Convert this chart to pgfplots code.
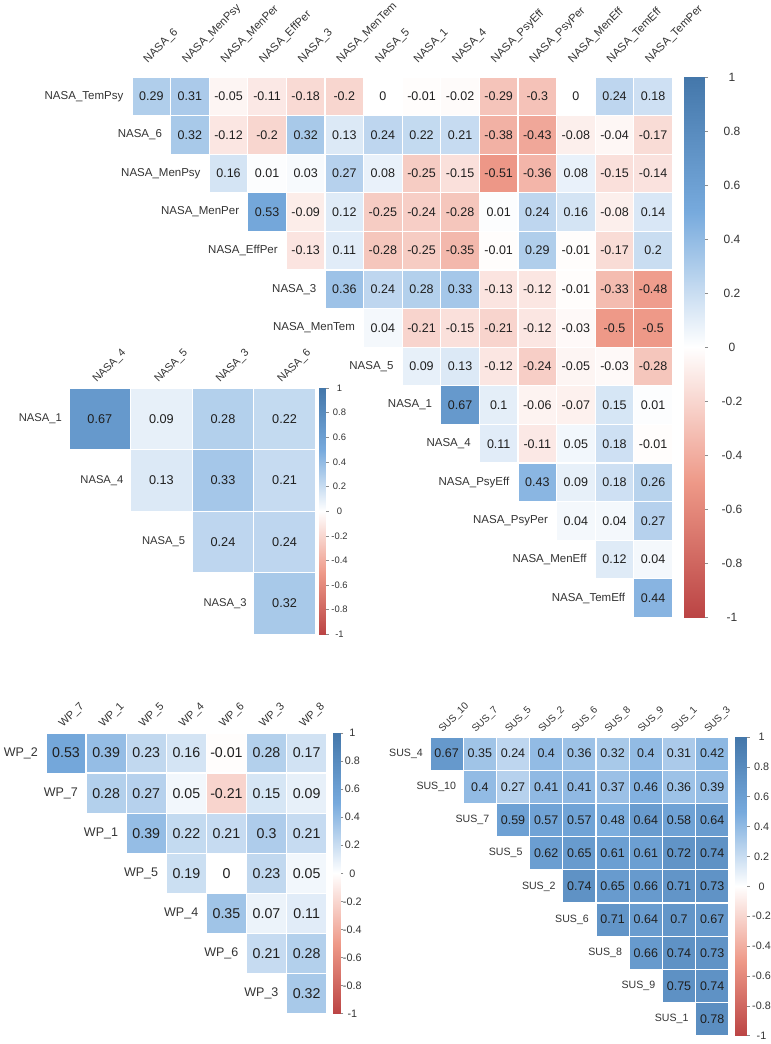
\documentclass[border=0pt]{standalone}
\usepackage{fontspec}
\setmainfont{Liberation Sans}
\usepackage{pgfplots}
\pgfplotsset{compat=1.18}
\newcommand{\fs}[1]{\fontsize{#1bp}{#1bp}\selectfont}

\pgfplotsset{
  colormap={corr}{rgb255(0cm)=(187,68,68) rgb255(1cm)=(238,153,136) rgb255(2cm)=(255,255,255) rgb255(3cm)=(119,170,221) rgb255(4cm)=(68,119,170)},
  heat/.style={anchor=north west, scale only axis, y dir=reverse, hide axis, clip=false,
    point meta min=-1, point meta max=1},
  cbar/.style={anchor=north west, scale only axis, xmin=0, xmax=1, ymin=-1, ymax=1,
    axis line style={draw=none}, xtick=\empty,
    ytick={-1,-0.8,-0.6,-0.4,-0.2,0,0.2,0.4,0.6,0.8,1},
    yticklabels={-1,-0.8,-0.6,-0.4,-0.2,0,0.2,0.4,0.6,0.8,1},
    ytick pos=right, yticklabel pos=right, tick align=outside,
    tick style={draw=black!45, line width=0.6bp},
    yticklabel style={anchor=center, text=black!80},
    point meta min=-1, point meta max=1},
  cells/.style={scatter, only marks, mark=square*, point meta=explicit,
    scatter/use mapped color={draw=white, fill=mapped color}, mark options={line width=1.2bp}},
  vals/.style={only marks, mark=none, nodes near coords, nodes near coords align={center},
    point meta=explicit symbolic, every node near coord/.append style={text=black!88, inner sep=0pt}},
  grad/.style={surf, shader=interp, mesh/rows=5, point meta=y},
}
\newcommand{\gradplot}{\addplot[grad] coordinates {(0,-1) (1,-1) (0,-0.5) (1,-0.5) (0,0) (1,0) (0,0.5) (1,0.5) (0,1) (1,1)};}

\begin{document}
\begin{tikzpicture}
\path[use as bounding box] (0,0) rectangle (771bp,1044bp);

% ---------------- big NASA panel ----------------
\begin{axis}[heat, name=big, at={(132bp,967bp)}, width=540.4bp, height=540.4bp,
  xmin=-0.5, xmax=13.5, ymin=-0.5, ymax=13.5]
\addplot[cells, mark size=19.3bp] coordinates {
(0,0)[0.29] (1,0)[0.31] (2,0)[-0.05] (3,0)[-0.11] (4,0)[-0.18] (5,0)[-0.2] (6,0)[0] (7,0)[-0.01] (8,0)[-0.02] (9,0)[-0.29] (10,0)[-0.3] (11,0)[0] (12,0)[0.24] (13,0)[0.18]
(1,1)[0.32] (2,1)[-0.12] (3,1)[-0.2] (4,1)[0.32] (5,1)[0.13] (6,1)[0.24] (7,1)[0.22] (8,1)[0.21] (9,1)[-0.38] (10,1)[-0.43] (11,1)[-0.08] (12,1)[-0.04] (13,1)[-0.17]
(2,2)[0.16] (3,2)[0.01] (4,2)[0.03] (5,2)[0.27] (6,2)[0.08] (7,2)[-0.25] (8,2)[-0.15] (9,2)[-0.51] (10,2)[-0.36] (11,2)[0.08] (12,2)[-0.15] (13,2)[-0.14]
(3,3)[0.53] (4,3)[-0.09] (5,3)[0.12] (6,3)[-0.25] (7,3)[-0.24] (8,3)[-0.28] (9,3)[0.01] (10,3)[0.24] (11,3)[0.16] (12,3)[-0.08] (13,3)[0.14]
(4,4)[-0.13] (5,4)[0.11] (6,4)[-0.28] (7,4)[-0.25] (8,4)[-0.35] (9,4)[-0.01] (10,4)[0.29] (11,4)[-0.01] (12,4)[-0.17] (13,4)[0.2]
(5,5)[0.36] (6,5)[0.24] (7,5)[0.28] (8,5)[0.33] (9,5)[-0.13] (10,5)[-0.12] (11,5)[-0.01] (12,5)[-0.33] (13,5)[-0.48]
(6,6)[0.04] (7,6)[-0.21] (8,6)[-0.15] (9,6)[-0.21] (10,6)[-0.12] (11,6)[-0.03] (12,6)[-0.5] (13,6)[-0.5]
(7,7)[0.09] (8,7)[0.13] (9,7)[-0.12] (10,7)[-0.24] (11,7)[-0.05] (12,7)[-0.03] (13,7)[-0.28]
(8,8)[0.67] (9,8)[0.1] (10,8)[-0.06] (11,8)[-0.07] (12,8)[0.15] (13,8)[0.01]
(9,9)[0.11] (10,9)[-0.11] (11,9)[0.05] (12,9)[0.18] (13,9)[-0.01]
(10,10)[0.43] (11,10)[0.09] (12,10)[0.18] (13,10)[0.26]
(11,11)[0.04] (12,11)[0.04] (13,11)[0.27]
(12,12)[0.12] (13,12)[0.04]
(13,13)[0.44]
};
\addplot[vals, every node near coord/.append style={font=\fs{12.5}}] coordinates {
(0,0)[0.29] (1,0)[0.31] (2,0)[-0.05] (3,0)[-0.11] (4,0)[-0.18] (5,0)[-0.2] (6,0)[0] (7,0)[-0.01] (8,0)[-0.02] (9,0)[-0.29] (10,0)[-0.3] (11,0)[0] (12,0)[0.24] (13,0)[0.18]
(1,1)[0.32] (2,1)[-0.12] (3,1)[-0.2] (4,1)[0.32] (5,1)[0.13] (6,1)[0.24] (7,1)[0.22] (8,1)[0.21] (9,1)[-0.38] (10,1)[-0.43] (11,1)[-0.08] (12,1)[-0.04] (13,1)[-0.17]
(2,2)[0.16] (3,2)[0.01] (4,2)[0.03] (5,2)[0.27] (6,2)[0.08] (7,2)[-0.25] (8,2)[-0.15] (9,2)[-0.51] (10,2)[-0.36] (11,2)[0.08] (12,2)[-0.15] (13,2)[-0.14]
(3,3)[0.53] (4,3)[-0.09] (5,3)[0.12] (6,3)[-0.25] (7,3)[-0.24] (8,3)[-0.28] (9,3)[0.01] (10,3)[0.24] (11,3)[0.16] (12,3)[-0.08] (13,3)[0.14]
(4,4)[-0.13] (5,4)[0.11] (6,4)[-0.28] (7,4)[-0.25] (8,4)[-0.35] (9,4)[-0.01] (10,4)[0.29] (11,4)[-0.01] (12,4)[-0.17] (13,4)[0.2]
(5,5)[0.36] (6,5)[0.24] (7,5)[0.28] (8,5)[0.33] (9,5)[-0.13] (10,5)[-0.12] (11,5)[-0.01] (12,5)[-0.33] (13,5)[-0.48]
(6,6)[0.04] (7,6)[-0.21] (8,6)[-0.15] (9,6)[-0.21] (10,6)[-0.12] (11,6)[-0.03] (12,6)[-0.5] (13,6)[-0.5]
(7,7)[0.09] (8,7)[0.13] (9,7)[-0.12] (10,7)[-0.24] (11,7)[-0.05] (12,7)[-0.03] (13,7)[-0.28]
(8,8)[0.67] (9,8)[0.1] (10,8)[-0.06] (11,8)[-0.07] (12,8)[0.15] (13,8)[0.01]
(9,9)[0.11] (10,9)[-0.11] (11,9)[0.05] (12,9)[0.18] (13,9)[-0.01]
(10,10)[0.43] (11,10)[0.09] (12,10)[0.18] (13,10)[0.26]
(11,11)[0.04] (12,11)[0.04] (13,11)[0.27]
(12,12)[0.12] (13,12)[0.04]
(13,13)[0.44]
};
\end{axis}
\begin{axis}[cbar, at={(684bp,967bp)}, width=20bp, height=540.4bp, major tick length=4bp,
  yticklabel style={font=\fs{12}, xshift=24bp}]
\gradplot
\end{axis}
\foreach \i/\l in {0/NASA\_TemPsy,1/NASA\_6,2/NASA\_MenPsy,3/NASA\_MenPer,4/NASA\_EffPer,5/NASA\_3,6/NASA\_MenTem,7/NASA\_5,8/NASA\_1,9/NASA\_4,10/NASA\_PsyEff,11/NASA\_PsyPer,12/NASA\_MenEff,13/NASA\_TemEff}
  \node[anchor=east, font=\fs{11.5}, text=black!80, inner sep=0pt] at ([xshift=\i*38.6bp-8.5bp, yshift=-\i*38.6bp-19.3bp]big.north west) {\l};
\foreach \i/\l in {0/NASA\_6,1/NASA\_MenPsy,2/NASA\_MenPer,3/NASA\_EffPer,4/NASA\_3,5/NASA\_MenTem,6/NASA\_5,7/NASA\_1,8/NASA\_4,9/NASA\_PsyEff,10/NASA\_PsyPer,11/NASA\_MenEff,12/NASA\_TemEff,13/NASA\_TemPer}
  \node[rotate=45, anchor=base west, font=\fs{11.2}, text=black!80, inner sep=0pt] at ([xshift=\i*38.6bp+19.3bp-3.5bp, yshift=13.7bp]big.north west) {\l};

% ---------------- small NASA panel ----------------
\begin{axis}[heat, name=small, at={(69bp,656bp)}, width=246.4bp, height=246.4bp,
  xmin=-0.5, xmax=3.5, ymin=-0.5, ymax=3.5]
\addplot[cells, mark size=30.8bp] coordinates {
(0,0)[0.67] (1,0)[0.09] (2,0)[0.28] (3,0)[0.22]
(1,1)[0.13] (2,1)[0.33] (3,1)[0.21]
(2,2)[0.24] (3,2)[0.24]
(3,3)[0.32]
};
\addplot[vals, every node near coord/.append style={font=\fs{12.7}}] coordinates {
(0,0)[0.67] (1,0)[0.09] (2,0)[0.28] (3,0)[0.22]
(1,1)[0.13] (2,1)[0.33] (3,1)[0.21]
(2,2)[0.24] (3,2)[0.24]
(3,3)[0.32]
};
\end{axis}
\begin{axis}[cbar, at={(319bp,656bp)}, width=6.5bp, height=246.4bp, major tick length=3bp,
  yticklabel style={font=\fs{9.4}, xshift=11bp}]
\gradplot
\end{axis}
\foreach \i/\l in {0/NASA\_1,1/NASA\_4,2/NASA\_5,3/NASA\_3}
  \node[anchor=east, font=\fs{11.2}, text=black!80, inner sep=0pt] at ([xshift=\i*61.6bp-7bp, yshift=-\i*61.6bp-30.8bp]small.north west) {\l};
\foreach \i/\l in {0/NASA\_4,1/NASA\_5,2/NASA\_3,3/NASA\_6}
  \node[rotate=45, anchor=base west, font=\fs{10.8}, text=black!80, inner sep=0pt] at ([xshift=\i*61.6bp+30.8bp-3bp, yshift=5bp]small.north west) {\l};

% ---------------- WP panel ----------------
\begin{axis}[heat, name=wp, at={(46bp,311bp)}, width=280.7bp, height=280.7bp,
  xmin=-0.5, xmax=6.5, ymin=-0.5, ymax=6.5]
\addplot[cells, mark size=20.05bp] coordinates {
(0,0)[0.53] (1,0)[0.39] (2,0)[0.23] (3,0)[0.16] (4,0)[-0.01] (5,0)[0.28] (6,0)[0.17]
(1,1)[0.28] (2,1)[0.27] (3,1)[0.05] (4,1)[-0.21] (5,1)[0.15] (6,1)[0.09]
(2,2)[0.39] (3,2)[0.22] (4,2)[0.21] (5,2)[0.3] (6,2)[0.21]
(3,3)[0.19] (4,3)[0] (5,3)[0.23] (6,3)[0.05]
(4,4)[0.35] (5,4)[0.07] (6,4)[0.11]
(5,5)[0.21] (6,5)[0.28]
(6,6)[0.32]
};
\addplot[vals, every node near coord/.append style={font=\fs{14.2}}] coordinates {
(0,0)[0.53] (1,0)[0.39] (2,0)[0.23] (3,0)[0.16] (4,0)[-0.01] (5,0)[0.28] (6,0)[0.17]
(1,1)[0.28] (2,1)[0.27] (3,1)[0.05] (4,1)[-0.21] (5,1)[0.15] (6,1)[0.09]
(2,2)[0.39] (3,2)[0.22] (4,2)[0.21] (5,2)[0.3] (6,2)[0.21]
(3,3)[0.19] (4,3)[0] (5,3)[0.23] (6,3)[0.05]
(4,4)[0.35] (5,4)[0.07] (6,4)[0.11]
(5,5)[0.21] (6,5)[0.28]
(6,6)[0.32]
};
\end{axis}
\begin{axis}[cbar, at={(333bp,311bp)}, width=7.3bp, height=280.7bp, major tick length=3bp,
  yticklabel style={font=\fs{10.8}, xshift=9bp}]
\gradplot
\end{axis}
\foreach \i/\l in {0/WP\_2,1/WP\_7,2/WP\_1,3/WP\_5,4/WP\_4,5/WP\_6,6/WP\_3}
  \node[anchor=east, font=\fs{12.5}, text=black!80, inner sep=0pt] at ([xshift=\i*40.1bp-8bp, yshift=-\i*40.1bp-20.05bp]wp.north west) {\l};
\foreach \i/\l in {0/WP\_7,1/WP\_1,2/WP\_5,3/WP\_4,4/WP\_6,5/WP\_3,6/WP\_8}
  \node[rotate=45, anchor=base west, font=\fs{11}, text=black!80, inner sep=0pt] at ([xshift=\i*40.1bp+20.05bp-3bp, yshift=5bp]wp.north west) {\l};

% ---------------- SUS panel ----------------
\begin{axis}[heat, name=sus, at={(430bp,307bp)}, width=298.8bp, height=298.8bp,
  xmin=-0.5, xmax=8.5, ymin=-0.5, ymax=8.5]
\addplot[cells, mark size=16.6bp] coordinates {
(0,0)[0.67] (1,0)[0.35] (2,0)[0.24] (3,0)[0.4] (4,0)[0.36] (5,0)[0.32] (6,0)[0.4] (7,0)[0.31] (8,0)[0.42]
(1,1)[0.4] (2,1)[0.27] (3,1)[0.41] (4,1)[0.41] (5,1)[0.37] (6,1)[0.46] (7,1)[0.36] (8,1)[0.39]
(2,2)[0.59] (3,2)[0.57] (4,2)[0.57] (5,2)[0.48] (6,2)[0.64] (7,2)[0.58] (8,2)[0.64]
(3,3)[0.62] (4,3)[0.65] (5,3)[0.61] (6,3)[0.61] (7,3)[0.72] (8,3)[0.74]
(4,4)[0.74] (5,4)[0.65] (6,4)[0.66] (7,4)[0.71] (8,4)[0.73]
(5,5)[0.71] (6,5)[0.64] (7,5)[0.7] (8,5)[0.67]
(6,6)[0.66] (7,6)[0.74] (8,6)[0.73]
(7,7)[0.75] (8,7)[0.74]
(8,8)[0.78]
};
\addplot[vals, every node near coord/.append style={font=\fs{12.5}}] coordinates {
(0,0)[0.67] (1,0)[0.35] (2,0)[0.24] (3,0)[0.4] (4,0)[0.36] (5,0)[0.32] (6,0)[0.4] (7,0)[0.31] (8,0)[0.42]
(1,1)[0.4] (2,1)[0.27] (3,1)[0.41] (4,1)[0.41] (5,1)[0.37] (6,1)[0.46] (7,1)[0.36] (8,1)[0.39]
(2,2)[0.59] (3,2)[0.57] (4,2)[0.57] (5,2)[0.48] (6,2)[0.64] (7,2)[0.58] (8,2)[0.64]
(3,3)[0.62] (4,3)[0.65] (5,3)[0.61] (6,3)[0.61] (7,3)[0.72] (8,3)[0.74]
(4,4)[0.74] (5,4)[0.65] (6,4)[0.66] (7,4)[0.71] (8,4)[0.73]
(5,5)[0.71] (6,5)[0.64] (7,5)[0.7] (8,5)[0.67]
(6,6)[0.66] (7,6)[0.74] (8,6)[0.73]
(7,7)[0.75] (8,7)[0.74]
(8,8)[0.78]
};
\end{axis}
\begin{axis}[cbar, at={(734.8bp,307bp)}, width=11.7bp, height=298.8bp, major tick length=3bp,
  yticklabel style={font=\fs{10.8}, xshift=12bp}]
\gradplot
\end{axis}
\foreach \i/\l in {0/SUS\_4,1/SUS\_10,2/SUS\_7,3/SUS\_5,4/SUS\_2,5/SUS\_6,6/SUS\_8,7/SUS\_9,8/SUS\_1}
  \node[anchor=east, font=\fs{10.6}, text=black!80, inner sep=0pt] at ([xshift=\i*33.2bp-7bp, yshift=-\i*33.2bp-16.6bp]sus.north west) {\l};
\foreach \i/\l in {0/SUS\_10,1/SUS\_7,2/SUS\_5,3/SUS\_2,4/SUS\_6,5/SUS\_8,6/SUS\_9,7/SUS\_1,8/SUS\_3}
  \node[rotate=45, anchor=base west, font=\fs{10}, text=black!80, inner sep=0pt] at ([xshift=\i*33.2bp+16.6bp-4bp, yshift=4bp]sus.north west) {\l};
\end{tikzpicture}
\end{document}
